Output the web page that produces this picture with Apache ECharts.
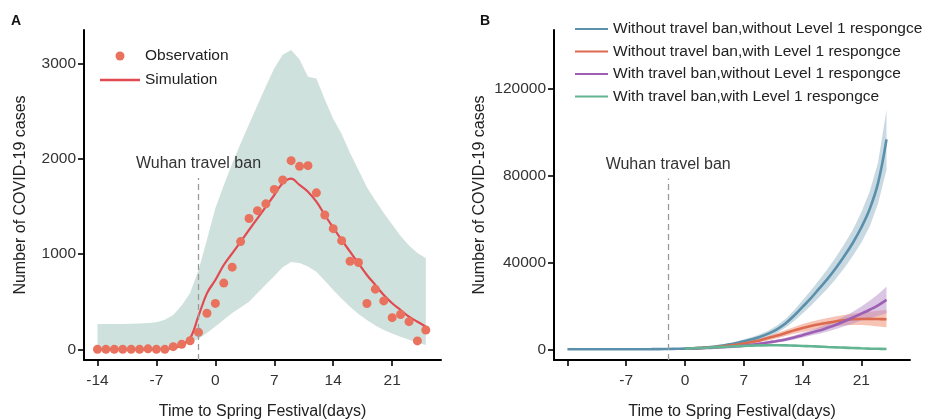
<!DOCTYPE html>
<html>
<head>
<meta charset="utf-8">
<title>COVID-19 cases</title>
<script src="https://cdn.jsdelivr.net/npm/echarts@6.0.0/dist/echarts.min.js"></script>
<style>
  html, body { margin: 0; padding: 0; background: #fff; }
  #main { width: 927px; height: 419px; }
</style>
</head>
<body>
<div id="main"></div>
<script>
// ---- panel A : daily cases, days -14 .. 25 ----
var daysA = [-14, -13, -12, -11, -10, -9, -8, -7, -6, -5, -4, -3, -2, -1, 0, 1, 2, 3, 4, 5,
  6, 7, 8, 9, 10, 11, 12, 13, 14, 15, 16, 17, 18, 19, 20, 21, 22, 23, 24, 25]
var observed = [0, 0, 0, 0, 0, 0, 5, 0, 0, 28, 52, 90, 178, 378, 482, 695, 862, 1130, 1372, 1455,
  1526, 1678, 1776, 1979, 1920, 1927, 1642, 1409, 1266, 1140, 924, 911, 481, 631, 508, 332, 365, 290, 88, 203]
var simulated = [0, 0, 0, 0, 0, 0, 0, 2, 5, 12, 45, 115, 350, 587, 727, 885, 1007, 1129, 1252, 1374,
  1496, 1619, 1742, 1790, 1724, 1654, 1549, 1409, 1276, 1147, 1024, 902, 780, 675, 570, 483, 412, 342, 290, 237]
var bandLow = [0, 0, 0, 0, 0, 0, 0, 0, 0, 15, 40, 70, 110, 170, 240, 310, 380, 440, 500, 590,
  680, 770, 860, 915, 905, 870, 815, 720, 622, 530, 447, 370, 307, 250, 203, 165, 132, 100, 70, 45]
var bandHigh = [265, 265, 265, 266, 268, 270, 275, 285, 310, 360, 460, 590, 830, 1150, 1480, 1720, 1950, 2160, 2360, 2560,
  2760, 2950, 3090, 3140, 3040, 2860, 2840, 2620, 2420, 2260, 2060, 1880, 1700, 1560, 1430, 1310, 1190, 1090, 1010, 955]

// ---- panel B : scenarios ----
var daysB = [-14, -13, -12, -11, -10, -9, -8, -7, -6, -5, -4, -3, -2, -1, 0, 1, 2, 3, 4, 5,
  6, 7, 8, 9, 10, 11, 12, 13, 14, 15, 16, 17, 18, 19, 20, 21, 22, 23, 24]
var daysAfter = [0, 1, 2, 3, 4, 5, 6, 7, 8, 9, 10, 11, 12, 13, 14, 15, 16, 17, 18, 19, 20, 21, 22, 23, 24]

var noBanNoResp = [0, 0, 0, 0, 0, 0, 0, 10, 20, 40, 60, 100, 150, 220, 300, 450, 700, 1000, 1500, 2100,
  2800, 3700, 4600, 5800, 7300, 9300, 12000, 15500, 19500, 23500, 28000, 32500, 37500, 43000, 49000, 56000, 64500, 76500, 96500]
var noBanNoRespHigh = [0, 0, 0, 0, 0, 0, 0, 10, 20, 40, 70, 120, 180, 260, 380, 560, 850, 1250, 1850, 2600,
  3500, 4500, 5600, 7000, 8800, 11000, 14000, 18000, 22500, 27000, 32000, 37000, 42500, 48500, 55000, 63000, 72500, 86000, 110000]
var noBanNoRespLow = [0, 0, 0, 0, 0, 0, 0, 10, 20, 40, 50, 80, 120, 180, 230, 350, 560, 780, 1200, 1650,
  2150, 2850, 3600, 4600, 5800, 7600, 10000, 13000, 16500, 20000, 24000, 28000, 32500, 37500, 43000, 49000, 56500, 67000, 82500]

var noBanResp = [300, 450, 650, 900, 1200, 1600, 2100, 2700, 3400, 4200, 5300, 6300, 7500, 8700, 9800, 10700,
  11500, 12200, 12900, 13400, 13800, 13950, 14000, 13900, 13800]
var noBanRespHigh = [350, 530, 770, 1070, 1450, 1950, 2550, 3300, 4150, 5100, 6200, 7500, 8900, 10300, 11600, 12700,
  13600, 14400, 15200, 15800, 16400, 16900, 17300, 17700, 18100]
var noBanRespLow = [250, 380, 540, 740, 970, 1270, 1650, 2100, 2650, 3300, 4200, 5100, 6100, 7100, 8000, 8800,
  9500, 10100, 10600, 11000, 11200, 11200, 10900, 10500, 10100]

var banNoResp = [300, 400, 500, 650, 850, 1050, 1300, 1650, 2100, 2600, 3200, 3800, 4500, 5400, 6500, 7600,
  8600, 9900, 11300, 12900, 14600, 16400, 18200, 20200, 22700]
var banNoRespHigh = [340, 460, 580, 760, 1000, 1250, 1550, 1950, 2500, 3100, 3800, 4500, 5300, 6300, 7600, 8900,
  10100, 11600, 13300, 15200, 17300, 19700, 22300, 25300, 28800]
var banNoRespLow = [260, 340, 420, 540, 700, 860, 1060, 1350, 1700, 2100, 2600, 3100, 3700, 4500, 5400, 6300,
  7100, 8200, 9300, 10600, 11900, 13200, 14300, 15400, 16550]

var banResp = [300, 450, 600, 800, 1000, 1200, 1400, 1550, 1700, 1800, 1850, 1850, 1800, 1700, 1550, 1400,
  1250, 1050, 900, 750, 600, 450, 330, 230, 150]

var tickDays = [-14, -7, 0, 7, 14, 21]
var labelDaysA = [-14, -7, 0, 7, 14, 21]
var labelDaysB = [-7, 0, 7, 14, 21]
var ticksA = [0, 1000, 2000, 3000]
var ticksB = [0, 40000, 80000, 120000]
var banDay = -2

var font = "'Liberation Sans', Arial, sans-serif"
var lineIcon = 'path://M0,0 H40 V2.6 H0 Z'

function pairs (xs, ys) {
  return xs.map(function (x, i) { return [x, ys[i]] })
}

function xAxisOf (grid, labels) {
  return {
    type: 'value', gridIndex: grid, min: -15.6, max: 26.8,
    name: 'Time to Spring Festival(days)', nameLocation: 'middle', nameGap: 44,
    nameTextStyle: { fontSize: 16, color: '#222', fontFamily: font },
    axisLine: { onZero: false, lineStyle: { color: '#000', width: 2 } },
    axisTick: { length: 6, lineStyle: { color: '#000', width: 1.6 }, customValues: tickDays },
    axisLabel: { fontSize: 15.5, color: '#333', margin: 13, fontFamily: font, customValues: labels },
    splitLine: { show: false }
  }
}

function yAxisOf (grid, min, max, ticks, gap) {
  return {
    type: 'value', gridIndex: grid, min: min, max: max,
    name: 'Number of COVID-19 cases', nameLocation: 'middle', nameGap: gap,
    nameTextStyle: { fontSize: 16, color: '#222', fontFamily: font },
    axisLine: { show: true, onZero: false, lineStyle: { color: '#000', width: 2 } },
    axisTick: { show: true, length: 6, lineStyle: { color: '#000', width: 1.6 }, customValues: ticks },
    axisLabel: { fontSize: 15.5, color: '#333', margin: 8, fontFamily: font, customValues: ticks,
      formatter: function (v) { return String(v) } },
    splitLine: { show: false }
  }
}

// confidence ribbon: one polygon, upper edge forward then lower edge back
function ribbon (grid, xs, lo, hi, color, opacity) {
  return {
    type: 'custom', xAxisIndex: grid, yAxisIndex: grid, silent: true, z: 1,
    data: xs.map(function (x, i) { return [x, lo[i], hi[i]] }),
    encode: { x: 0, y: [1, 2] },
    renderItem: function (params, api) {
      if (params.dataIndex !== 0) return null
      var top = []
      var bottom = []
      for (var i = 0; i < xs.length; i++) {
        top.push(api.coord([xs[i], hi[i]]))
        bottom.unshift(api.coord([xs[i], lo[i]]))
      }
      return {
        type: 'polygon',
        shape: { points: top.concat(bottom) },
        style: { fill: color, opacity: opacity }
      }
    }
  }
}

function curve (grid, name, xs, ys, color, width) {
  return {
    type: 'line', name: name, xAxisIndex: grid, yAxisIndex: grid, smooth: 0.4, z: 3,
    data: pairs(xs, ys), showSymbol: false, color: color,
    lineStyle: { color: color, width: width }
  }
}

function banLine (top, bottom) {
  return {
    symbol: ['none', 'none'], silent: true,
    lineStyle: { color: '#9a9a9a', type: [6, 4], width: 1.3 },
    label: { show: true, position: 'end', distance: 6, formatter: 'Wuhan travel ban',
      fontSize: 16, color: '#333', fontFamily: font },
    data: [[{ coord: [banDay, bottom] }, { coord: [banDay, top] }]]
  }
}

var myChart = echarts.init(document.getElementById('main'))

var simLine = curve(0, 'Simulation', daysA, simulated, '#e04a50', 2.2)
var obsPoints = {
  type: 'scatter', name: 'Observation', xAxisIndex: 0, yAxisIndex: 0, z: 4,
  data: pairs(daysA, observed), symbolSize: 9, color: '#e9725f',
  itemStyle: { color: '#e9725f', opacity: 1 },
  markLine: banLine(1797, -112)
}

var blueLine = curve(1, 'Without travel ban,without Level 1 respongce', daysB, noBanNoResp, '#5a90ab', 2.6)
blueLine.markLine = banLine(78500, -4920)

var series = [
  ribbon(0, daysA, bandLow, bandHigh, '#cfe1dc', 1),
  simLine,
  obsPoints,
  ribbon(1, daysB, noBanNoRespLow, noBanNoRespHigh, '#93b3c5', 0.5),
  ribbon(1, daysAfter, noBanRespLow, noBanRespHigh, '#ee9277', 0.55),
  ribbon(1, daysAfter, banNoRespLow, banNoRespHigh, '#b58cc8', 0.5),
  blueLine,
  curve(1, 'Without travel ban,with Level 1 respongce', daysAfter, noBanResp, '#dc6a4e', 2.6),
  curve(1, 'With travel ban,without Level 1 respongce', daysAfter, banNoResp, '#9d5fb3', 2.6),
  curve(1, 'With travel ban,with Level 1 respongce', daysAfter, banResp, '#62b492', 2.6)
]

var option = {
  animation: false,
  backgroundColor: '#fff',
  textStyle: { fontFamily: font },
  title: [
    { text: 'A', left: 11, top: 14, padding: 0, textStyle: { fontSize: 14, fontWeight: 'bold', color: '#111' } },
    { text: 'B', left: 480, top: 14, padding: 0, textStyle: { fontSize: 14, fontWeight: 'bold', color: '#111' } }
  ],
  legend: [{
    left: 100, top: 48, orient: 'vertical', padding: 0,
    itemWidth: 40, itemHeight: 9, itemGap: 8,
    textStyle: { fontSize: 15.5, color: '#222', fontFamily: font },
    data: [{ name: 'Observation', icon: 'circle' }, { name: 'Simulation', icon: lineIcon }]
  }, {
    left: 575, top: 21, orient: 'vertical', padding: 0,
    itemWidth: 33, itemHeight: 9, itemGap: 6.5,
    textStyle: { fontSize: 15.5, color: '#222', fontFamily: font },
    data: [
      { name: 'Without travel ban,without Level 1 respongce', icon: lineIcon },
      { name: 'Without travel ban,with Level 1 respongce', icon: lineIcon },
      { name: 'With travel ban,without Level 1 respongce', icon: lineIcon },
      { name: 'With travel ban,with Level 1 respongce', icon: lineIcon }
    ]
  }],
  grid: [
    { left: 84, top: 30, width: 357, height: 330, outerBoundsMode: 'none', containLabel: false },
    { left: 554, top: 30, width: 356, height: 330, outerBoundsMode: 'none', containLabel: false }
  ],
  xAxis: [xAxisOf(0, labelDaysA), xAxisOf(1, labelDaysB)],
  yAxis: [yAxisOf(0, -112, 3350, ticksA, 55), yAxisOf(1, -4920, 146800, ticksB, 66)],
  series: series
}

myChart.setOption(option)
</script>
</body>
</html>
